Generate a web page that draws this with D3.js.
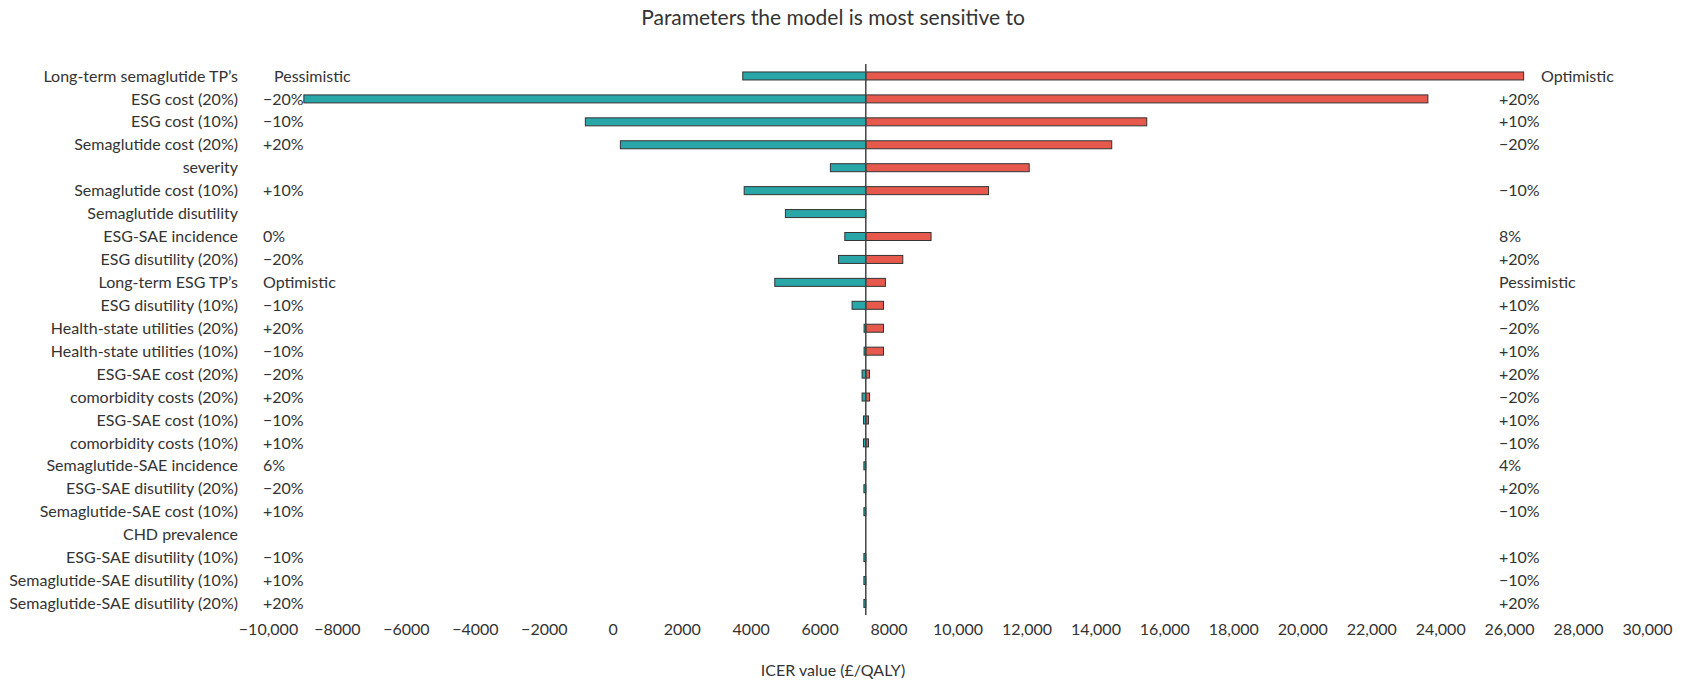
<!DOCTYPE html>
<html>
<head>
<meta charset="utf-8">
<script src="https://cdn.jsdelivr.net/npm/d3@7"></script>
<style>
  body { margin: 0; background: #fff; }
  text { font-family: Lato, "Open Sans", sans-serif; fill: #333; }
</style>
</head>
<body>
<div id="chart"></div>
<script>
// tornado data
var baseIcer = 7340;

var params = [
    "Long-term semaglutide TP\u2019s", "ESG cost (20%)", "ESG cost (10%)", "Semaglutide cost (20%)",
    "severity", "Semaglutide cost (10%)", "Semaglutide disutility", "ESG-SAE incidence",
    "ESG disutility (20%)", "Long-term ESG TP\u2019s", "ESG disutility (10%)", "Health-state utilities (20%)",
    "Health-state utilities (10%)", "ESG-SAE cost (20%)", "comorbidity costs (20%)", "ESG-SAE cost (10%)",
    "comorbidity  costs (10%)", "Semaglutide-SAE incidence", "ESG-SAE disutility (20%)", "Semaglutide-SAE cost (10%)",
    "CHD prevalence", "ESG-SAE disutility (10%)", "Semaglutide-SAE disutility (10%)", "Semaglutide-SAE disutility (20%)"
];

var lowValues = [3771, -8960, -795, 221, 6313, 3812, 5008, 6731, 6549, 4700, 6942, 7290,
                 7290, 7232, 7232, 7273, 7273, 7285, 7285, 7285, 7340, 7285, 7285, 7285];

var highValues = [26422, 23644, 15489, 14474, 12080, 10901, 7340, 9233, 8413, 7909, 7853, 7853,
                  7853, 7446, 7450, 7418, 7418, 7340, 7340, 7340, 7340, 7340, 7340, 7340];

var lowLabels = ["Pessimistic", "\u221220%", "\u221210%", "+20%", "", "+10%", "", "0%",
                 "\u221220%", "Optimistic", "\u221210%", "+20%", "\u221210%", "\u221220%", "+20%", "\u221210%",
                 "+10%", "6%", "\u221220%", "+10%", "", "\u221210%", "+10%", "+20%"];

var highLabels = ["Optimistic", "+20%", "+10%", "\u221220%", "", "\u221210%", "", "8%",
                  "+20%", "Pessimistic", "+10%", "\u221220%", "+10%", "+20%", "\u221220%", "+10%",
                  "\u221210%", "4%", "+20%", "\u221210%", "", "+10%", "\u221210%", "+20%"];

var xTicks = [-10000, -8000, -6000, -4000, -2000, 0, 2000, 4000, 6000, 8000, 10000,
              12000, 14000, 16000, 18000, 20000, 22000, 24000, 26000, 28000, 30000];

var width = 1684, height = 683;

var svg = d3.select("#chart")
    .append("svg")
    .attr("width", width)
    .attr("height", height);

var x = d3.scaleLinear()
    .domain([-10000, 30000])
    .range([268, 1647]);

var y = d3.scaleBand()
    .domain(params)
    .range([64.5, 614.9]);

var barH = 8;

// tick labels: no comma below 10,000
function tickFmt(v) {
    var s = Math.abs(v) >= 10000 ? d3.format(",")(Math.abs(v)) : String(Math.abs(v));
    return (v < 0 ? "\u2212" : "") + s;
}

var xAxis = d3.axisBottom(x)
    .tickValues(xTicks)
    .tickFormat(tickFmt)
    .tickSize(0)
    .tickPadding(0);

var gx = svg.append("g")
    .attr("transform", "translate(0,623)")
    .call(xAxis);
gx.select(".domain").remove();
gx.selectAll("text")
    .attr("dy", "0.35em")
    .attr("y", 6)
    .style("font-size", "16px")
    .style("font-family", "Lato, sans-serif")
    .style("fill", "#333");

// title
svg.append("text")
    .attr("x", 833)
    .attr("y", 18)
    .attr("dy", "0.35em")
    .style("text-anchor", "middle")
    .style("font-size", "21px")
    .text("Parameters the model is most sensitive to");

// x axis title
svg.append("text")
    .attr("x", 833)
    .attr("y", 670)
    .attr("dy", "0.35em")
    .style("text-anchor", "middle")
    .style("font-size", "16px")
    .text("ICER value (\u00a3/QALY)");

var rows = params.map(function(p, i) {
    return { name: p, low: lowValues[i], high: highValues[i], lowLab: lowLabels[i], highLab: highLabels[i] };
});

function yc(d) { return y(d.name) + y.bandwidth() / 2; }

// teal bars (low side)
svg.selectAll("rect.low")
    .data(rows.filter(function(d) { return d.low != baseIcer; }))
    .enter().append("rect")
    .attr("class", "low")
    .attr("x", function(d) { return x(Math.min(d.low, baseIcer)); })
    .attr("y", function(d) { return yc(d) - barH / 2; })
    .attr("width", function(d) { return Math.abs(x(baseIcer) - x(d.low)); })
    .attr("height", barH)
    .style("fill", "#29a6a8")
    .style("stroke", "#333")
    .style("stroke-width", 1);

// red bars (high side)
svg.selectAll("rect.high")
    .data(rows.filter(function(d) { return d.high != baseIcer; }))
    .enter().append("rect")
    .attr("class", "high")
    .attr("x", function(d) { return x(Math.min(d.high, baseIcer)); })
    .attr("y", function(d) { return yc(d) - barH / 2; })
    .attr("width", function(d) { return Math.abs(x(d.high) - x(baseIcer)); })
    .attr("height", barH)
    .style("fill", "#e8594d")
    .style("stroke", "#333")
    .style("stroke-width", 1);

// base case line
svg.append("line")
    .attr("x1", x(baseIcer))
    .attr("x2", x(baseIcer))
    .attr("y1", 64)
    .attr("y2", 615)
    .style("stroke", "#444")
    .style("stroke-width", 1.5);

// parameter names
svg.selectAll("text.cat")
    .data(rows)
    .enter().append("text")
    .attr("class", "cat")
    .attr("x", 238)
    .attr("y", yc)
    .attr("dy", "0.35em")
    .style("text-anchor", "end")
    .style("font-size", "16px")
    .text(function(d) { return d.name; });

// low-side range labels
svg.selectAll("text.lowlab")
    .data(rows)
    .enter().append("text")
    .attr("class", "lowlab")
    .attr("x", function(d, i) { return i == 0 ? 274 : 263; })
    .attr("y", yc)
    .attr("dy", "0.35em")
    .style("font-size", "16px")
    .text(function(d) { return d.lowLab; });

// high-side range labels
svg.selectAll("text.highlab")
    .data(rows)
    .enter().append("text")
    .attr("class", "highlab")
    .attr("x", function(d, i) { return i == 0 ? 1541 : 1499; })
    .attr("y", yc)
    .attr("dy", "0.35em")
    .style("font-size", "16px")
    .text(function(d) { return d.highLab; });
</script>
</body>
</html>
